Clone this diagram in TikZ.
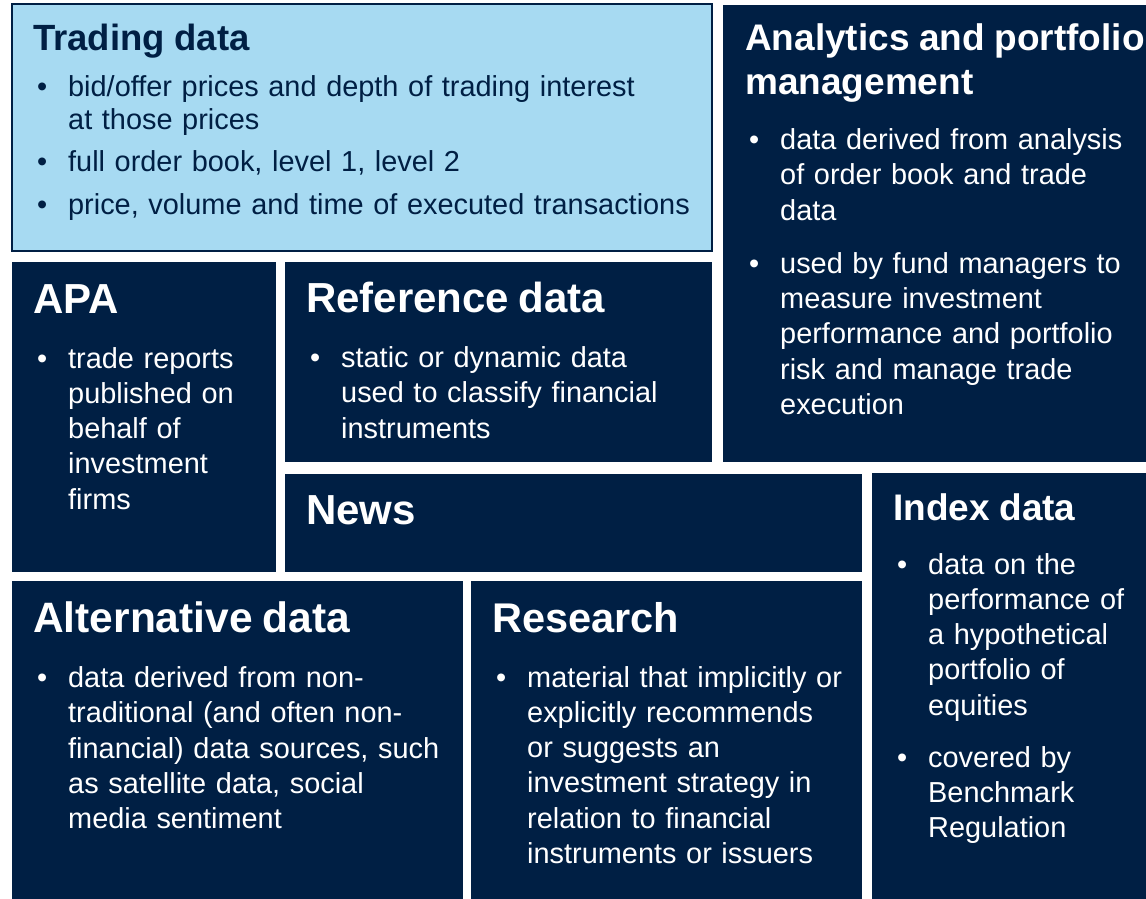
\documentclass[tikz,border=0pt]{standalone}
\usepackage{fontspec}
\setmainfont{Liberation Sans}
\usepackage{tikz}
\definecolor{navy}{RGB}{0,31,68}
\definecolor{paleblue}{RGB}{167,218,242}
\newcommand{\boxhead}[2]{\noindent{\fontsize{#1}{43.3}\selectfont\bfseries\rule{0pt}{32pt}#2\par}}
\newcommand{\bitem}[1]{\par\noindent\hbox to 35pt{\hspace{4pt}\textbullet\hfil}%
	\parbox[t]{660pt}{#1\strut}\par\prevdepth=\dp\strutbox}

\begin{document}
\begin{tikzpicture}[x=1pt,y=-1pt,
	body/.style={anchor=north west,inner sep=0pt,text width=700pt,
		font=\fontsize{28.9}{35.3}\selectfont,text=white}]
	\useasboundingbox (0,0) rectangle (1146,899);
	\fill[white] (0,0) rectangle (1146,899);
	\filldraw[fill=paleblue,draw=navy,line width=1.5pt] (12,4) rectangle (712,251);
	\foreach \xa/\ya/\xb/\yb in {723/5/1146/462, 12/262/276/572, 285/262/712/462,
		285/474/862/572, 872/473/1146/899, 12/581/463/899, 471/581/862/899}{
		\fill[navy] (\xa,\ya) rectangle (\xb,\yb);}
	\node[body,text=navy,font=\fontsize{28.9}{33.3}\selectfont] (trading) at (33,18.7) {%
		\boxhead{36.5}{Trading data}\vspace{12pt}
		\bitem{bid/offer prices and depth of trading interest\\at those prices}\vspace{9pt}
		\bitem{full order book, level 1, level 2}\vspace{9pt}
		\bitem{price, volume and time of executed transactions}};
	\node[body] (analytics) at (745,18.7) {%
		\boxhead{37}{Analytics and portfolio\\management}\vspace{20pt}
		\bitem{data derived from analysis\\of order book and trade\\data}\vspace{18pt}
		\bitem{used by fund managers to\\measure investment\\performance and portfolio\\risk and manage trade\\execution}};
	\node[body] (apa) at (33,281) {%
		\boxhead{42}{APA}\vspace{19.5pt}
		\bitem{trade reports\\published on\\behalf of\\investment\\firms}};
	\node[body] (refdata) at (306,280) {%
		\boxhead{42}{Reference data}\vspace{20pt}
		\bitem{static or dynamic data\\used to classify financial\\instruments}};
	\node[body] (news) at (306,492) {\boxhead{42}{News}};
	\node[body] (index) at (893,488) {%
		\boxhead{37}{Index data}\vspace{18.5pt}
		\bitem{data on the\\performance of\\a hypothetical\\portfolio of\\equities}\vspace{16.5pt}
		\bitem{covered by\\Benchmark\\Regulation}};
	\node[body] (altdata) at (33,600.3) {%
		\boxhead{42.5}{Alternative data}\vspace{19.7pt}
		\bitem{data derived from non-\\traditional (and often non-\\financial) data sources, such\\as satellite data, social\\media sentiment}};
	\node[body] (research) at (492,600) {%
		\boxhead{41.5}{Research}\vspace{19.5pt}
		\bitem{material that implicitly or\\explicitly recommends\\or suggests an\\investment strategy in\\relation to financial\\instruments or issuers}};
\end{tikzpicture}
\end{document}
